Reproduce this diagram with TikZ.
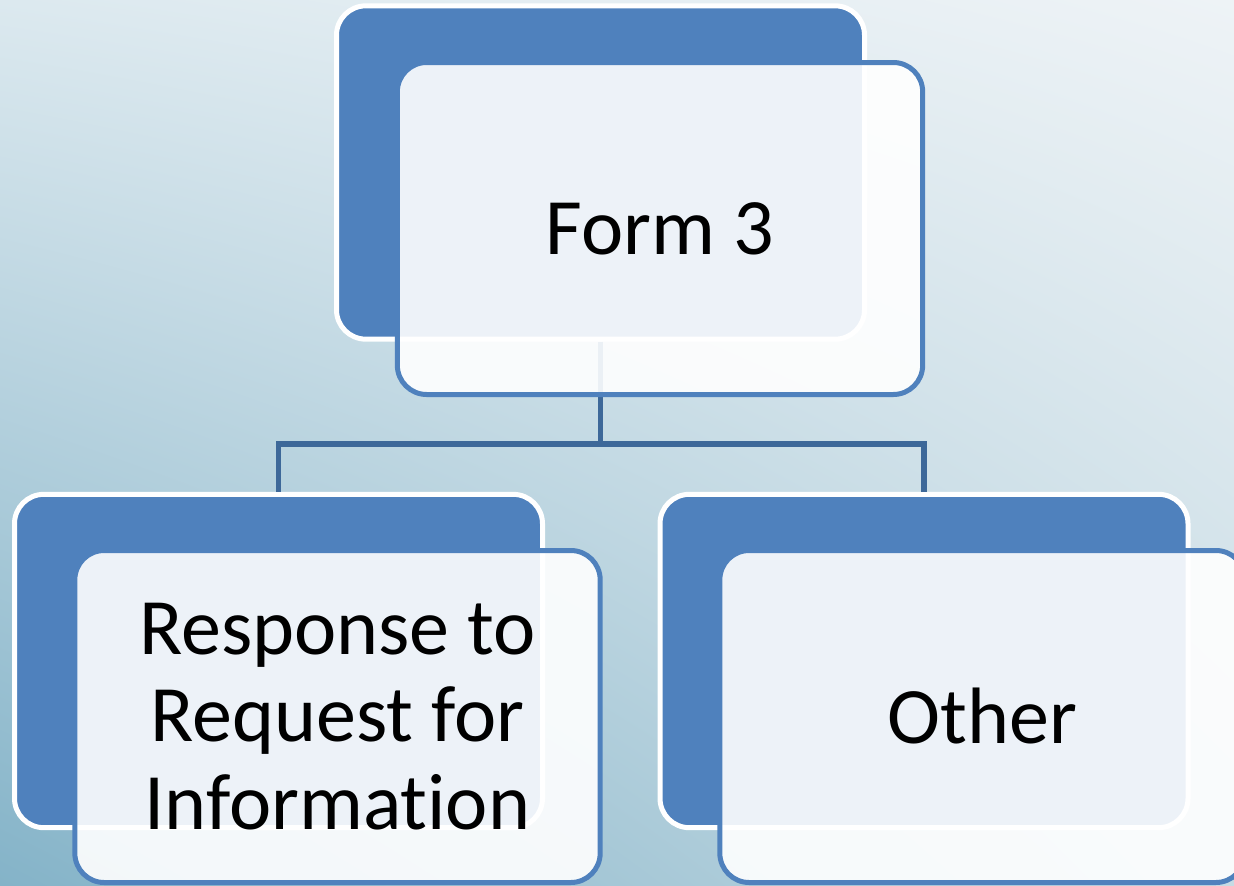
\documentclass[tikz,border=0pt]{standalone}
\usepackage{fontspec}
\setmainfont[Ligatures=NoCommon]{Carlito}
\usetikzlibrary{shadings}
\definecolor{accent}{HTML}{4F81BD}
\definecolor{linkblue}{HTML}{3D6899}
\definecolor{bgTL}{HTML}{DCE9EF}
\definecolor{bgTR}{HTML}{EEF3F6}
\definecolor{bgBL}{HTML}{84B3C8}
\definecolor{bgBR}{HTML}{C6DBE4}
\tikzset{
  backcard/.style={draw=white, line width=3.75pt, fill=accent, rounded corners=22pt,
    inner sep=0pt, minimum width=396pt, minimum height=250pt},
  frontcard/.style={draw=accent, line width=3.75pt, fill=white, fill opacity=0.9,
    text opacity=1, rounded corners=22pt, inner sep=0pt,
    minimum width=394pt, minimum height=249pt, align=center,
    font=\fontsize{60}{65.5}\selectfont},
  link/.style={draw=linkblue, line width=4.2pt}
}
\begin{document}
\begin{tikzpicture}[x=0.75pt, y=-0.75pt]
  % backdrop
  \useasboundingbox (0,0) rectangle (1234,885);
  \shade[upper left=bgTL, upper right=bgTR, lower left=bgBL, lower right=bgBR]
    (0,0) rectangle (1234,885);

  % back cards
  \node[backcard] (f3back)  at (600.5,172.5) {};
  \node[backcard] (rfiback) at (278.5,661) {};
  \node[backcard] (othback) at (924,661) {};

  % tree connectors
  \coordinate (bus) at (601,444);
  \draw[link] (f3back.south) -- (f3back.south |- bus) -| (rfiback.north);
  \draw[link] (f3back.south |- bus) -| (othback.north);

  % front cards with labels
  \node[frontcard] (f3)  at (660,228.5) {Form 3};
  \node[frontcard] (rfi) at (337.5,716.5) {Response to\\Request for\\Information};
  \node[frontcard] (oth) at (982.5,716.5) {Other};
\end{tikzpicture}
\end{document}
